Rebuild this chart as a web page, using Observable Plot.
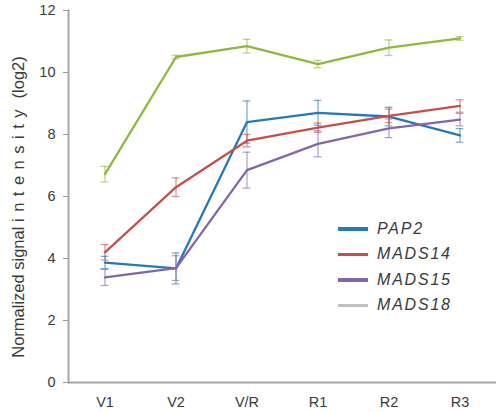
<!DOCTYPE html>
<html>
<head>
<meta charset="utf-8">
<script src="https://cdn.jsdelivr.net/npm/d3@7"></script>
<script src="https://cdn.jsdelivr.net/npm/@observablehq/plot@0.6"></script>
<style>
  body { margin: 0; background: #fff; font-family: "Liberation Sans", Arial, sans-serif; }
  #wrap { position: relative; width: 496px; height: 412px; }
  #legend { position: absolute; left: 338px; top: 216px; font-style: italic; font-size: 16px; letter-spacing: 1.8px; color: #3a3a3a; }
  .row { display: flex; align-items: center; height: 25.5px; }
  .sw { width: 30px; height: 3.5px; margin-right: 9px; }
</style>
</head>
<body>
<div id="wrap"><div id="chart"></div><div id="legend"></div></div>
<script>
const stages = ["V1", "V2", "V/R", "R1", "R2", "R3"];
const genes = ["PAP2", "MADS14", "MADS15", "MADS18"];
const lineColors = ["#2878b8", "#c4504c", "#8466a8", "#8fb83e"];
const legendColors = ["#2878b8", "#c4504c", "#8466a8", "#c0c0c0"];

const pap2 = [3.87, 3.68, 8.4, 8.7, 8.58, 7.97];
const pap2Err = [0.2, 0.5, 0.68, 0.4, 0.3, 0.22];
const mads14 = [4.2, 6.3, 7.8, 8.22, 8.6, 8.92];
const mads14Err = [0.25, 0.3, 0.2, 0.15, 0.22, 0.2];
const mads15 = [3.39, 3.69, 6.85, 7.7, 8.2, 8.48];
const mads15Err = [0.26, 0.4, 0.58, 0.42, 0.3, 0.2];
const mads18 = [6.72, 10.5, 10.85, 10.27, 10.8, 11.1];
const mads18Err = [0.25, 0.06, 0.22, 0.12, 0.25, 0.06];

const yTicks = [0, 2, 4, 6, 8, 10, 12];

const seriesVals = [pap2, mads14, mads15, mads18];
const seriesErr = [pap2Err, mads14Err, mads15Err, mads18Err];
const rows = [];
genes.forEach((g, gi) => stages.forEach((s, si) => rows.push({
  gene: g, stage: s, v: seriesVals[gi][si], lo: seriesVals[gi][si] - seriesErr[gi][si], hi: seriesVals[gi][si] + seriesErr[gi][si]
})));

const capW = 8;
const step = (496 - 68) / stages.length;
const inset = (step - capW) / 2;

const plot = Plot.plot({
  width: 496,
  height: 412,
  marginLeft: 68,
  marginRight: 0,
  marginTop: 10,
  marginBottom: 30,
  style: { fontFamily: "Liberation Sans, Arial, sans-serif", fontSize: "14px", color: "#3a3a3a", background: "transparent" },
  x: { type: "band", domain: stages, padding: 0, label: null },
  y: { domain: [0, 12], ticks: yTicks, label: null },
  color: { domain: genes, range: lineColors },
  marks: [
    Plot.axisX({ tickSize: 0, tickPadding: 14, fontSize: 14.5, fill: "#3a3a3a" }),
    Plot.axisY({ ticks: yTicks, tickSize: 5, tickPadding: 8, fontSize: 14.5, stroke: "#999", fill: "#3a3a3a" }),
    Plot.frame({ anchor: "left", stroke: "#a5a5a5", strokeWidth: 2 }),
    Plot.ruleY([0], { stroke: "#a5a5a5", strokeWidth: 2 }),
    Plot.ruleX(rows, { x: "stage", y1: "lo", y2: "hi", stroke: "gene", strokeOpacity: 0.6, strokeWidth: 1.3 }),
    Plot.tickY(rows, { x: "stage", y: "lo", stroke: "gene", strokeOpacity: 0.6, strokeWidth: 1.3, insetLeft: inset, insetRight: inset }),
    Plot.tickY(rows, { x: "stage", y: "hi", stroke: "gene", strokeOpacity: 0.6, strokeWidth: 1.3, insetLeft: inset, insetRight: inset }),
    Plot.line(rows, { x: "stage", y: "v", z: "gene", stroke: "gene", strokeWidth: 2.3 })
  ]
});

// y axis title with letter-spaced "intensity"
const svg = d3.select(plot);
const t = svg.append("text")
  .attr("transform", "translate(20,207) rotate(-90)")
  .attr("text-anchor", "middle")
  .attr("dominant-baseline", "middle")
  .attr("font-size", 16.5)
  .attr("fill", "#3a3a3a");
t.append("tspan").text("Normalized signal ");
t.append("tspan").attr("letter-spacing", "6.5px").text("intensity");
t.append("tspan").text(" (log2)");

document.getElementById("chart").appendChild(plot);

const legend = document.getElementById("legend");
genes.forEach((g, i) => {
  const row = document.createElement("div");
  row.className = "row";
  const sw = document.createElement("div");
  sw.className = "sw";
  sw.style.background = legendColors[i];
  const lab = document.createElement("span");
  lab.textContent = g;
  row.appendChild(sw);
  row.appendChild(lab);
  legend.appendChild(row);
});
</script>
</body>
</html>
